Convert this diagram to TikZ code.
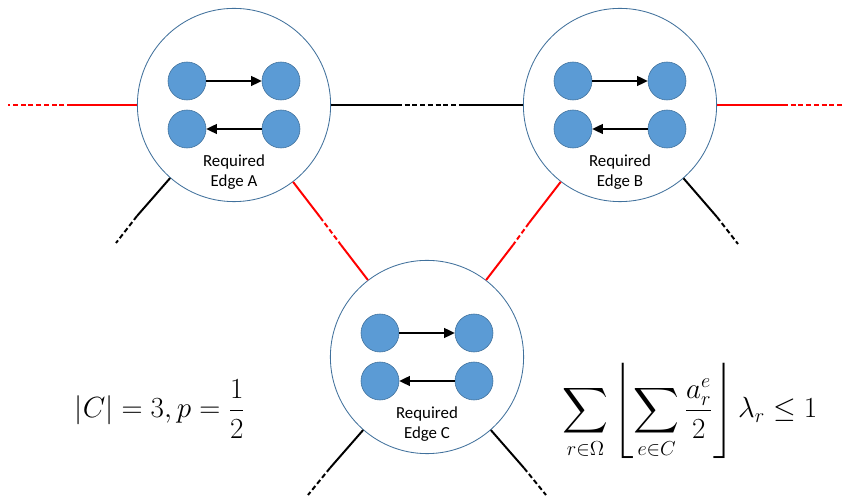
\documentclass[tikz,border=0pt]{standalone}
\usepackage{amsmath,amssymb}
\usepackage[no-math]{fontspec}
\newfontfamily\labelfont{Carlito}
\usetikzlibrary{arrows.meta}
\definecolor{dotblue}{HTML}{5B9BD5}
\definecolor{rimblue}{HTML}{41719C}

\begin{document}
\begin{tikzpicture}[
    x=0.025cm, y=-0.025cm,
    edgebox/.style={circle, draw=rimblue, line width=0.6pt, fill=white,
                    minimum size=4.83cm, inner sep=0pt},
    dot/.style={circle, draw=rimblue, fill=dotblue, line width=0.4pt,
                minimum size=0.95cm, inner sep=0pt},
    lbl/.style={align=center, font=\labelfont\fontsize{12}{14.2}\selectfont},
    formula/.style={anchor=base, inner sep=0pt, font=\fontsize{22.6}{27}\selectfont},
    arr/.style={-{Triangle[length=7.5pt, width=7pt]}, line width=1.1pt},
    link/.style={line width=1.4pt},
    cut/.style={link, dash pattern=on 3.5pt off 2pt}
]
    \useasboundingbox (0,0) rectangle (844,497);

    % the three required edges
    \node[edgebox] (A) at (234,105) {};
    \node[edgebox] (B) at (620,105) {};
    \node[edgebox] (C) at (427,357) {};

    \node[dot] (a1) at (187,81) {};
    \node[dot] (a2) at (281,81) {};
    \node[dot] (a3) at (187,129) {};
    \node[dot] (a4) at (281,129) {};
    \draw[arr] (a1) -- (a2);
    \draw[arr] (a4) -- (a3);
    \node[lbl] (la) at (234,172) {Required\\Edge A};

    \node[dot] (b1) at (573,81) {};
    \node[dot] (b2) at (667,81) {};
    \node[dot] (b3) at (573,129) {};
    \node[dot] (b4) at (667,129) {};
    \draw[arr] (b1) -- (b2);
    \draw[arr] (b4) -- (b3);
    \node[lbl] (lb) at (620,172) {Required\\Edge B};

    \node[dot] (c1) at (380,333) {};
    \node[dot] (c2) at (474,333) {};
    \node[dot] (c3) at (380,381) {};
    \node[dot] (c4) at (474,381) {};
    \draw[arr] (c1) -- (c2);
    \draw[arr] (c4) -- (c3);
    \node[lbl] (lc) at (427,424) {Required\\Edge C};

    % break points on the links
    \coordinate (ab1) at (397,105);
    \coordinate (ab2) at (460,105);
    \coordinate (ac1) at (320,217);
    \coordinate (ac2) at (341,245);
    \coordinate (bc1) at (529,223);
    \coordinate (bc2) at (513,245);

    % loose ends
    \coordinate (wa1) at (72,105);
    \coordinate (wa2) at (8,105);
    \coordinate (sa1) at (137,216);
    \coordinate (sa2) at (116,243);
    \coordinate (eb1) at (783,105);
    \coordinate (eb2) at (844,105);
    \coordinate (sb1) at (717,217);
    \coordinate (sb2) at (738,244);
    \coordinate (sc1) at (330,468);
    \coordinate (sc2) at (308,495);
    \coordinate (sc3) at (524,468);
    \coordinate (sc4) at (546,495);

    \draw[link] (A) -- (ab1);
    \draw[cut] (ab1) -- (ab2);
    \draw[link] (ab2) -- (B);

    \draw[link, red] (A) -- (ac1);
    \draw[cut, red] (ac1) -- (ac2);
    \draw[link, red] (ac2) -- (C);

    \draw[link, red] (B) -- (bc1);
    \draw[cut, red] (bc1) -- (bc2);
    \draw[link, red] (bc2) -- (C);

    \draw[link, red] (A) -- (wa1);
    \draw[cut, red] (wa1) -- (wa2);
    \draw[link, red] (B) -- (eb1);
    \draw[cut, red] (eb1) -- (eb2);

    \draw[link] (A) -- (sa1);
    \draw[cut] (sa1) -- (sa2);
    \draw[link] (B) -- (sb1);
    \draw[cut] (sb1) -- (sb2);
    \draw[link] (C) -- (sc1);
    \draw[cut] (sc1) -- (sc2);
    \draw[link] (C) -- (sc3);
    \draw[cut] (sc3) -- (sc4);

    \node[formula] (size) at (160,418) {$\displaystyle |C| = 3, p = \frac{1}{2}$};
    \node[formula] (cons) at (690,418)
        {$\displaystyle \sum_{r\in\Omega} \left\lfloor \sum_{e\in C} \frac{a_r^e}{2} \right\rfloor \lambda_r \le 1$};
\end{tikzpicture}
\end{document}
